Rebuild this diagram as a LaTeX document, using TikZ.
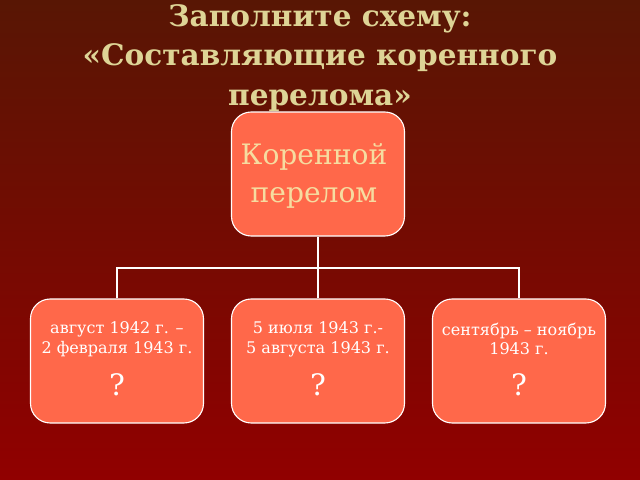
\documentclass[tikz,border=0pt]{standalone}
\usepackage{fontspec}
\setmainfont{DejaVu Serif}
\usetikzlibrary{positioning}
\definecolor{bgtop}{RGB}{88,22,4}
\definecolor{bgbot}{RGB}{145,0,0}
\definecolor{boxfill}{RGB}{255,104,74}
\definecolor{titlecol}{RGB}{222,212,150}
\definecolor{rootcol}{RGB}{246,220,160}

\begin{document}
\begin{tikzpicture}[%
  x=0.025cm, y=-0.025cm,
  box/.style={draw=white, line width=0.8pt, fill=boxfill, rounded corners=14pt,
    minimum width=173*0.025cm, minimum height=124*0.025cm, inner sep=0pt},
  link/.style={draw=white, line width=1.2pt},
  small/.style={text=white, font=\fontsize{11.4}{14}\selectfont, align=center},
  ask/.style={text=white, font=\fontsize{21}{24}\selectfont},
]

  % background
  \shade[top color=bgtop, bottom color=bgbot] (0,0) rectangle (640,480);
  \useasboundingbox (0,0) rectangle (640,480);

  % title
  \node[text=titlecol, font=\bfseries\fontsize{21}{28}\selectfont, align=center] (title)
    at (320,58) {Заполните схему:\\«Составляющие коренного\\перелома»};

  % boxes
  \node[box] (root) at (318,174) {};
  \node[box] (b1) at (117,361) {};
  \node[box] (b2) at (318,361) {};
  \node[box] (b3) at (519,361) {};

  \node[text=rootcol, font=\fontsize{20}{27}\selectfont, align=center] (roottxt)
    at (314,176) {Коренной\\перелом};

  % connectors
  \coordinate (hub) at (318,268);
  \draw[link] (root.south) -- (hub);
  \draw[link] (b1.north) |- (hub);
  \draw[link] (b3.north) |- (hub);
  \draw[link] (hub) -- (b2.north);

  % labels
  \node[small] (t1) at (117,339) {август 1942 г. –\\2 февраля 1943 г.};
  \node[small] (t2) at (318,339) {5 июля 1943 г.-\\5 августа 1943 г.};
  \node[small] (t3) at (519,339) {сентябрь – ноябрь\\1943 г.};
  \node[ask] (q1) at (117,385) {?};
  \node[ask] (q2) at (318,385) {?};
  \node[ask] (q3) at (519,385) {?};

\end{tikzpicture}
\end{document}
